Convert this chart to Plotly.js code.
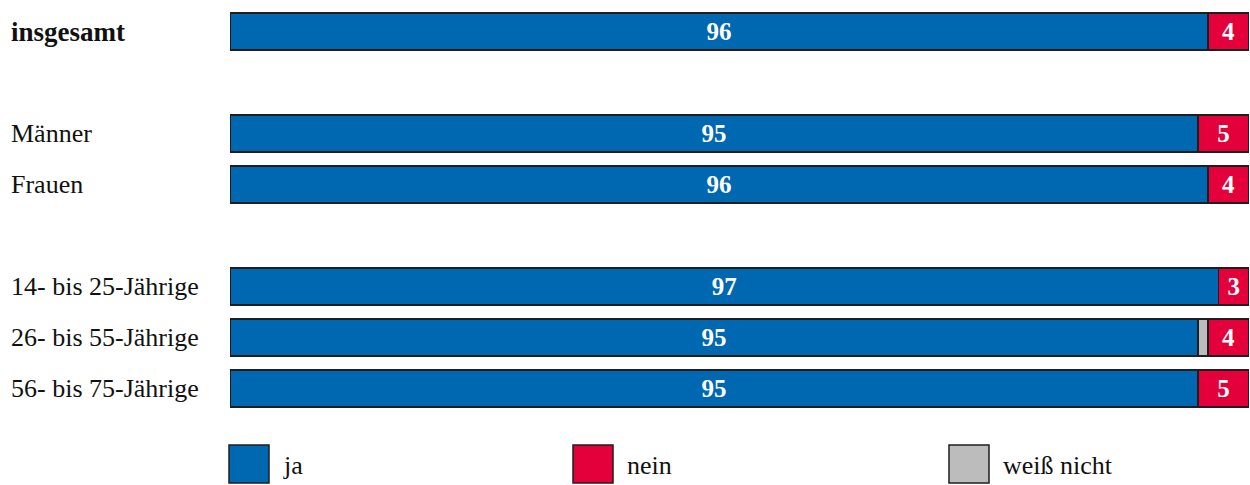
<!DOCTYPE html>
<html>
<head>
<meta charset="utf-8">
<script src="https://cdn.plot.ly/plotly-3.0.1.min.js"></script>
<style>
  html, body { margin: 0; padding: 0; background: #ffffff; }
  #chart { width: 1250px; height: 485px; }
</style>
</head>
<body>
<div id="chart"></div>
<script>
// ---- data ----
const categories = ['insgesamt', 'Männer', 'Frauen', '14- bis 25-Jährige', '26- bis 55-Jährige', '56- bis 75-Jährige'];
const seriesNames = ['ja', 'nein', 'weiß nicht'];
const jaValues = [96, 95, 96, 97, 95, 95];
const weissNichtValues = [0, 0, 0, 0, 1, 0];
const neinValues = [4, 5, 4, 3, 4, 5];

// ---- style ----
const colors = { ja: '#0067B1', nein: '#E3003B', weiss: '#BCBCBC' };
const outline = { color: '#1e1e1e', width: 1.5 };
const serif = 'Liberation Serif, Times New Roman, serif';

// layout with spacer rows between groups
const spacer1 = ' ', spacer2 = '  ';
const categoryOrder = [categories[0], spacer1, categories[1], categories[2], spacer2, categories[3], categories[4], categories[5]];

const W = 1250, H = 485;
const margin = { l: 230, r: 1, t: 6, b: 71 };
const plotW = W - margin.l - margin.r;
const plotH = H - margin.t - margin.b;
const px2x = px => (px - margin.l) / plotW;
const py2y = py => (H - margin.b - py) / plotH;

function labelText(v) { return v > 0 ? '<b>' + v + '</b>' : ''; }

const common = {
  type: 'bar',
  orientation: 'h',
  y: categories,
  textposition: 'inside',
  insidetextanchor: 'middle',
  constraintext: 'none',
  textangle: 0,
  insidetextfont: { family: serif, size: 25, color: '#ffffff' },
  hoverinfo: 'skip',
  cliponaxis: false
};

const traces = [
  Object.assign({}, common, {
    name: seriesNames[0], x: jaValues, text: jaValues.map(labelText),
    marker: { color: colors.ja, line: outline }
  }),
  Object.assign({}, common, {
    name: seriesNames[2], x: weissNichtValues, text: weissNichtValues.map(() => ''),
    marker: { color: colors.weiss, line: outline }
  }),
  Object.assign({}, common, {
    name: seriesNames[1], x: neinValues, text: neinValues.map(labelText),
    marker: { color: colors.nein, line: outline }
  })
];

// category labels, left-aligned
const annotations = categories.map((c, i) => ({
  xref: 'paper', yref: 'y',
  x: px2x(9), y: c,
  xanchor: 'left', yanchor: 'middle',
  text: i === 0 ? '<b>' + c + '</b>' : c,
  showarrow: false,
  font: { family: serif, size: i === 0 ? 27 : 26, color: '#111111' }
}));

// legend drawn manually (large swatches)
const legendItems = [
  { name: seriesNames[0], color: colors.ja, x: 229 },
  { name: seriesNames[1], color: colors.nein, x: 573 },
  { name: seriesNames[2], color: colors.weiss, x: 949 }
];
const shapes = [];
legendItems.forEach(it => {
  shapes.push({
    type: 'rect', xref: 'paper', yref: 'paper',
    x0: px2x(it.x), x1: px2x(it.x + 40),
    y0: py2y(483), y1: py2y(445),
    fillcolor: it.color, line: { color: '#1e1e1e', width: 1.5 }
  });
  annotations.push({
    xref: 'paper', yref: 'paper',
    x: px2x(it.x + 52), y: py2y(465),
    xanchor: 'left', yanchor: 'middle',
    text: it.name, showarrow: false,
    font: { family: serif, size: 26, color: '#111111' }
  });
});

const layout = {
  width: W, height: H,
  margin: margin,
  paper_bgcolor: '#ffffff',
  plot_bgcolor: '#ffffff',
  barmode: 'stack',
  bargap: 0.28,
  showlegend: false,
  xaxis: {
    range: [0, 100], showgrid: false, zeroline: false,
    showticklabels: false, ticks: '', showline: false, fixedrange: true
  },
  yaxis: {
    type: 'category', categoryorder: 'array', categoryarray: categoryOrder,
    autorange: 'reversed', showgrid: false, zeroline: false,
    showticklabels: false, ticks: '', showline: false, fixedrange: true
  },
  annotations: annotations,
  shapes: shapes,
  font: { family: serif }
};

Plotly.newPlot('chart', traces, layout, { staticPlot: true, displayModeBar: false });
</script>
</body>
</html>
